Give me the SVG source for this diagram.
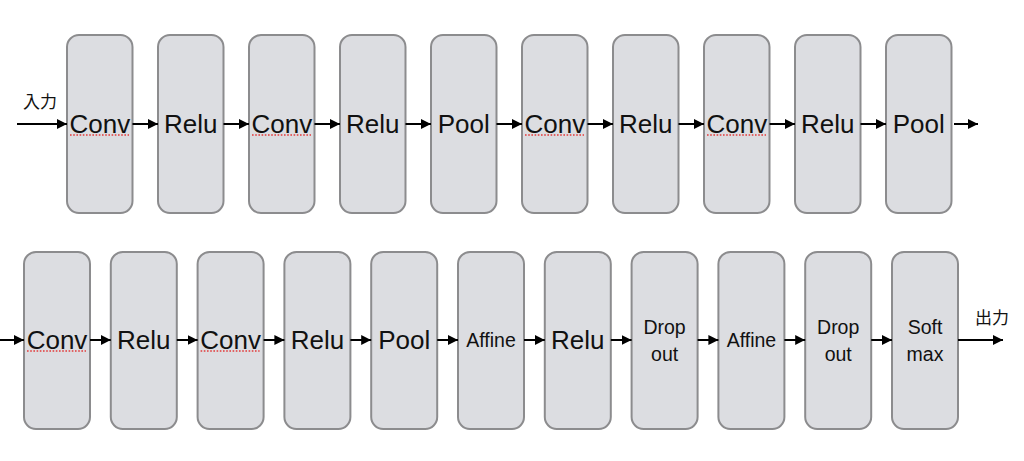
<svg xmlns="http://www.w3.org/2000/svg" width="1024" height="461" viewBox="0 0 1024 461">
<defs>
<marker id="ah" markerUnits="userSpaceOnUse" markerWidth="10" markerHeight="10" refX="10" refY="5" orient="auto" viewBox="0 0 10 10">
<path d="M0,0 L10,5 L0,10 Z" fill="#000"/>
</marker>
</defs>
<style>
.box{fill:#dcdde1;stroke:#8c8c8e;stroke-width:2}
.t{font-family:"Liberation Sans",Arial,sans-serif;fill:#111;text-anchor:middle}
.big{font-size:26px}
.sm{font-size:19.5px}
.lbl{font-family:"Noto Sans CJK JP","Liberation Sans",sans-serif;font-size:17px;fill:#111}
.c{stroke:#000;stroke-width:2;fill:none;marker-end:url(#ah)}
.sp{stroke:#e23a3a;stroke-width:1.6;stroke-dasharray:1.6 1.6;fill:none}
</style>
<rect width="1024" height="461" fill="#fff"/>
<g id="row1">
<g id="n1"><rect class="box" x="67" y="35" width="65.5" height="178" rx="12"/><text class="t big" x="99.8" y="133">Conv</text><line class="sp" x1="70" y1="135" x2="129" y2="135"/></g>
<g id="n2"><rect class="box" x="158" y="35" width="65.5" height="178" rx="12"/><text class="t big" x="190.8" y="133">Relu</text></g>
<g id="n3"><rect class="box" x="249" y="35" width="65.5" height="178" rx="12"/><text class="t big" x="281.8" y="133">Conv</text><line class="sp" x1="252" y1="135" x2="311" y2="135"/></g>
<g id="n4"><rect class="box" x="340" y="35" width="65.5" height="178" rx="12"/><text class="t big" x="372.8" y="133">Relu</text></g>
<g id="n5"><rect class="box" x="431" y="35" width="65.5" height="178" rx="12"/><text class="t big" x="463.8" y="133">Pool</text></g>
<g id="n6"><rect class="box" x="522" y="35" width="65.5" height="178" rx="12"/><text class="t big" x="554.8" y="133">Conv</text><line class="sp" x1="525" y1="135" x2="584" y2="135"/></g>
<g id="n7"><rect class="box" x="613" y="35" width="65.5" height="178" rx="12"/><text class="t big" x="645.8" y="133">Relu</text></g>
<g id="n8"><rect class="box" x="704" y="35" width="65.5" height="178" rx="12"/><text class="t big" x="736.8" y="133">Conv</text><line class="sp" x1="707" y1="135" x2="766" y2="135"/></g>
<g id="n9"><rect class="box" x="795" y="35" width="65.5" height="178" rx="12"/><text class="t big" x="827.8" y="133">Relu</text></g>
<g id="n10"><rect class="box" x="886" y="35" width="65.5" height="178" rx="12"/><text class="t big" x="918.8" y="133">Pool</text></g>
</g>
<g id="row2">
<g id="m1"><rect class="box" x="24" y="252" width="66" height="177" rx="12"/><text class="t big" x="57" y="349">Conv</text><line class="sp" x1="27" y1="351" x2="86" y2="351"/></g>
<g id="m2"><rect class="box" x="110.8" y="252" width="66" height="177" rx="12"/><text class="t big" x="143.8" y="349">Relu</text></g>
<g id="m3"><rect class="box" x="197.6" y="252" width="66" height="177" rx="12"/><text class="t big" x="230.6" y="349">Conv</text><line class="sp" x1="200.6" y1="351" x2="259.6" y2="351"/></g>
<g id="m4"><rect class="box" x="284.4" y="252" width="66" height="177" rx="12"/><text class="t big" x="317.4" y="349">Relu</text></g>
<g id="m5"><rect class="box" x="371.2" y="252" width="66" height="177" rx="12"/><text class="t big" x="404.2" y="349">Pool</text></g>
<g id="m6"><rect class="box" x="458" y="252" width="66" height="177" rx="12"/><text class="t sm" x="491" y="347">Affine</text></g>
<g id="m7"><rect class="box" x="544.8" y="252" width="66" height="177" rx="12"/><text class="t big" x="577.8" y="349">Relu</text></g>
<g id="m8"><rect class="box" x="631.6" y="252" width="66" height="177" rx="12"/><text class="t sm" x="664.6" y="334">Drop</text><text class="t sm" x="664.6" y="361">out</text></g>
<g id="m9"><rect class="box" x="718.4" y="252" width="66" height="177" rx="12"/><text class="t sm" x="751.4" y="347">Affine</text></g>
<g id="m10"><rect class="box" x="805.2" y="252" width="66" height="177" rx="12"/><text class="t sm" x="838.2" y="334">Drop</text><text class="t sm" x="838.2" y="361">out</text></g>
<g id="m11"><rect class="box" x="892" y="252" width="66" height="177" rx="12"/><text class="t sm" x="925" y="334">Soft</text><text class="t sm" x="925" y="361">max</text></g>
</g>
<g id="connectors">
<line class="c" x1="17" y1="124" x2="67" y2="124"/>
<line class="c" x1="132.5" y1="124" x2="158" y2="124"/>
<line class="c" x1="223.5" y1="124" x2="249" y2="124"/>
<line class="c" x1="314.5" y1="124" x2="340" y2="124"/>
<line class="c" x1="405.5" y1="124" x2="431" y2="124"/>
<line class="c" x1="496.5" y1="124" x2="522" y2="124"/>
<line class="c" x1="587.5" y1="124" x2="613" y2="124"/>
<line class="c" x1="678.5" y1="124" x2="704" y2="124"/>
<line class="c" x1="769.5" y1="124" x2="795" y2="124"/>
<line class="c" x1="860.5" y1="124" x2="886" y2="124"/>
<line class="c" x1="954" y1="124" x2="978" y2="124"/>
<line class="c" x1="0" y1="340" x2="24" y2="340"/>
<line class="c" x1="90" y1="340" x2="110.8" y2="340"/>
<line class="c" x1="176.8" y1="340" x2="197.6" y2="340"/>
<line class="c" x1="263.6" y1="340" x2="284.4" y2="340"/>
<line class="c" x1="350.4" y1="340" x2="371.2" y2="340"/>
<line class="c" x1="437.2" y1="340" x2="458" y2="340"/>
<line class="c" x1="524" y1="340" x2="544.8" y2="340"/>
<line class="c" x1="610.8" y1="340" x2="631.6" y2="340"/>
<line class="c" x1="697.6" y1="340" x2="718.4" y2="340"/>
<line class="c" x1="784.4" y1="340" x2="805.2" y2="340"/>
<line class="c" x1="871.2" y1="340" x2="892" y2="340"/>
<line class="c" x1="958" y1="340" x2="1003" y2="340"/>
</g>
<text class="lbl" x="23" y="108">入力</text>
<text class="lbl" x="975" y="324">出力</text>
</svg>
